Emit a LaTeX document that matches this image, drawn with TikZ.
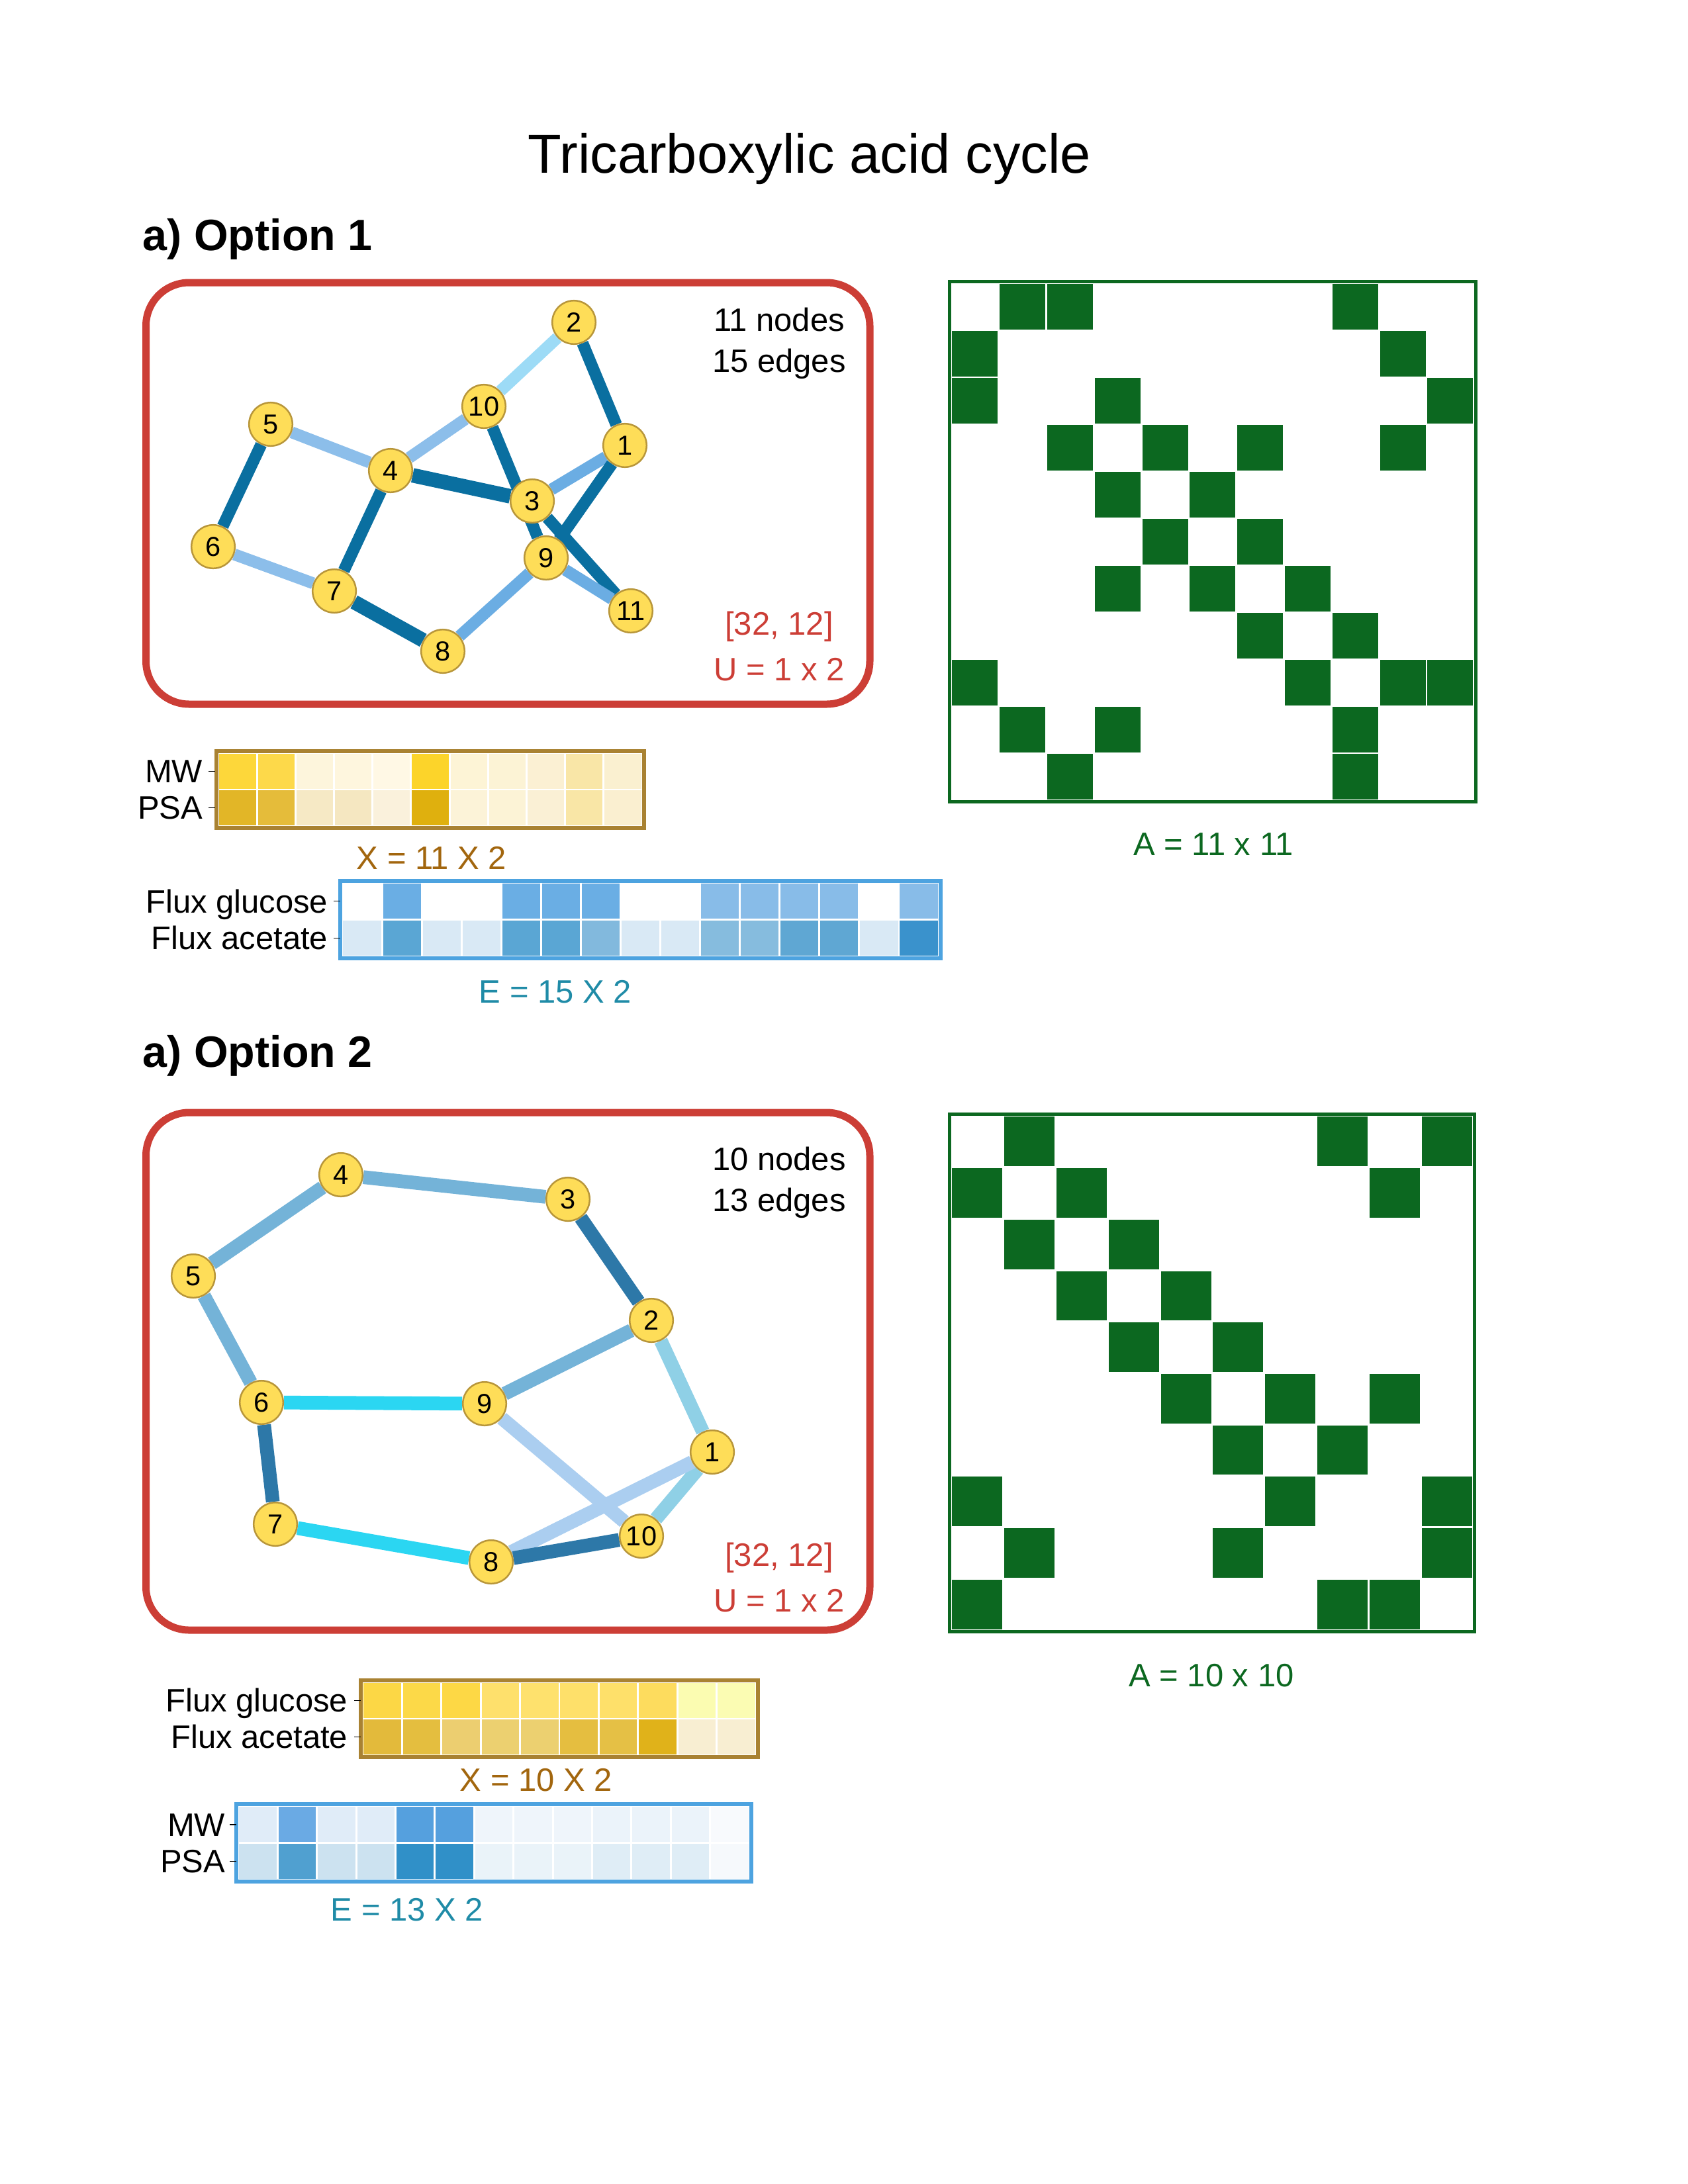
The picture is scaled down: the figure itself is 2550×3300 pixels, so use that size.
\documentclass[tikz,border=0pt]{standalone}
\usepackage{fontspec}
\setmainfont{Liberation Sans}
\usetikzlibrary{backgrounds}
\definecolor{boxred}{HTML}{CC3E36}
\definecolor{vfill}{HTML}{FEDD58}
\definecolor{vline}{HTML}{B8963A}
\definecolor{adjgreen}{HTML}{0C6820}
\definecolor{xbrown}{HTML}{A98232}
\definecolor{xtext}{HTML}{A2660E}
\definecolor{eblue}{HTML}{4DA3E0}
\definecolor{etext}{HTML}{1F8BA7}
\definecolor{gadark}{HTML}{0A6FA0}
\definecolor{galight}{HTML}{8CBEEA}
\definecolor{gamid}{HTML}{6BADE3}
\definecolor{gasky}{HTML}{9DDBF6}
\definecolor{gbmid}{HTML}{74B3D8}
\definecolor{gbdark}{HTML}{2D78A8}
\definecolor{gbcyan}{HTML}{2BD6F2}
\definecolor{gbpale}{HTML}{8FD0E6}
\definecolor{gblav}{HTML}{ABCEF0}

\begin{document}
\begin{tikzpicture}[x=0.2409pt,y=-0.2409pt,
  vert/.style={circle,fill=vfill,draw=vline,line width=0.6pt,minimum size=15.8pt,inner sep=0pt,font=\fontsize{10}{10}\selectfont},
  txt/.style={anchor=base,inner sep=0pt,font=\fontsize{11.8}{14}\selectfont},
  rowlbl/.style={anchor=base east,inner sep=0pt,font=\fontsize{11.8}{14}\selectfont},
  panel/.style={draw=boxred,line width=2.65pt,rounded corners=15.7pt},
  adjframe/.style={draw=adjgreen,line width=1.2pt},
  adjcell/.style={fill=adjgreen,draw=white,line width=0.7pt},
  hcell/.style={fill=hc,draw=white,line width=0.7pt},
  tick/.style={line width=0.35pt},
  ea/.style={line width=4.3pt},
  eb/.style={line width=5.3pt},
  ec/.style={line width=5pt}]
\useasboundingbox (0,0) rectangle (2550,3300);
%titles
\node[anchor=base,inner sep=0pt,font=\fontsize{20}{24}\selectfont] (title) at (1223,261) {Tricarboxylic acid cycle};
\node[anchor=base west,inner sep=0pt,font=\fontsize{16}{19}\selectfont\bfseries] (opta) at (215,378) {a) Option 1};
\node[anchor=base west,inner sep=0pt,font=\fontsize{16}{19}\selectfont\bfseries] (optb) at (215,1612) {a) Option 2};

%option one graph
\draw[panel] (220.5,427) rectangle (1314,1064);
\node[vert] (a1) at (944,673) {1};
\node[vert] (a2) at (867,487) {2};
\node[vert] (a3) at (804,757) {3};
\node[vert] (a4) at (590,711) {4};
\node[vert] (a5) at (409,641) {5};
\node[vert] (a6) at (322,826) {6};
\node[vert] (a7) at (505,893) {7};
\node[vert] (a8) at (669,984) {8};
\node[vert] (a9) at (825,843) {9};
\node[vert] (a10) at (731,614) {10};
\node[vert] (a11) at (953,923) {11};
\begin{scope}[on background layer]
\draw[ea,gasky] (a2)--(a10);
\draw[ea,galight] (a10)--(a4);
\draw[ea,galight] (a5)--(a4);
\draw[ea,galight] (a6)--(a7);
\draw[ea,gamid] (a1)--(a3);
\draw[ea,gamid] (a8)--(a9);
\draw[ea,gadark] (a2)--(a1);
\draw[ea,gadark] (a10)--(a9);
\draw[ea,gadark] (a5)--(a6);
\draw[ea,gadark] (a4)--(a7);
\draw[ea,gadark] (a1)--(a9);
\draw[ea,gadark] (a3)--(a11);
\draw[ea,gamid] (a9)--(a11);
\draw[eb,gadark] (a4)--(a3);
\draw[eb,gadark] (a7)--(a8);
\end{scope}
\node[txt] (na) at (1177,500) {11 nodes};
\node[txt] (ma) at (1177,562) {15 edges};
\node[txt,text=boxred] (ua) at (1177,959) {[32, 12]};
\node[txt,text=boxred] (va) at (1177,1028) {U = 1 x 2};

%option one adjacency
\foreach \r/\c in {1/2,1/3,1/9,2/1,2/10,3/1,3/4,3/11,4/3,4/5,4/7,4/10,5/4,5/6,6/5,6/7,7/4,7/6,7/8,8/7,8/9,9/1,9/8,9/10,9/11,10/2,10/4,10/9,11/3,11/9}
  \filldraw[adjcell] (1437+\c*71.8-71.8,428+\r*71-71) rectangle ++(71.8,71);
\draw[adjframe] (1434.5,425.5) rectangle (2229.3,1211.5);
\node[txt,text=adjgreen] (aa) at (1833,1292) {A = 11 x 11};

%option one heatmaps
\foreach \c [count=\i from 0] in {FDD73A,FDD94A,FDF5DC,FEF6DE,FFF8E5,FCD42A,FDF4D6,FCF3D5,FBF0D3,F9E6A7,FAF0D0}
  {\definecolor{hc}{HTML}{\c}\filldraw[hcell] (330+\i*58.18,1138) rectangle ++(58.18,55);}
\foreach \c [count=\i from 0] in {E2B627,E5BC3A,F6E9C5,F5E7C1,FAF1DC,DFB00E,FCF3D8,FCF3D6,FAF0D5,F9E6A6,FAEFD0}
  {\definecolor{hc}{HTML}{\c}\filldraw[hcell] (330+\i*58.18,1193) rectangle ++(58.18,55);}
\draw[xbrown,line width=1.45pt] (327,1135) rectangle (973,1251);
\draw[tick] (315,1165.5)--(325,1165.5);
\draw[tick] (315,1220.5)--(325,1220.5);
\node[rowlbl] (xa1) at (307,1182.5) {MW};
\node[rowlbl] (xa2) at (307,1237.5) {PSA};
\node[txt,text=xtext] (xa) at (652,1313) {X = 11 X 2};
\foreach \c [count=\i from 0] in {FFFFFF,6AAEE4,FFFFFF,FFFFFF,6AAEE4,6AAEE4,6AAEE4,FFFFFF,FFFFFF,88BCE8,88BCE8,88BCE8,88BCE8,FFFFFF,88BCE8}
  {\definecolor{hc}{HTML}{\c}\filldraw[hcell] (517+\i*60.07,1334) rectangle ++(60.07,55.5);}
\foreach \c [count=\i from 0] in {D9E9F5,5AA6D4,D9E9F5,D9E9F5,5AA6D4,5AA6D4,82B9DD,D9E9F5,D9E9F5,86BCDE,86BCDE,5FA7D3,5FA7D3,D9E9F5,3A92CC}
  {\definecolor{hc}{HTML}{\c}\filldraw[hcell] (517+\i*60.07,1389.5) rectangle ++(60.07,55.5);}
\draw[eblue,line width=1.45pt] (514,1331) rectangle (1421,1448);
\draw[tick] (504,1361.75)--(514,1361.75);
\draw[tick] (504,1417.25)--(514,1417.25);
\node[rowlbl] (ea1) at (496,1379) {Flux glucose};
\node[rowlbl] (ea2) at (496,1434) {Flux acetate};
\node[txt,text=etext] (ea) at (839,1515) {E = 15 X 2};

%option two graph
\draw[panel] (220.5,1681) rectangle (1314,2463);
\node[vert] (b1) at (1076,2194) {1};
\node[vert] (b2) at (984,1995) {2};
\node[vert] (b3) at (858,1812) {3};
\node[vert] (b4) at (515,1775) {4};
\node[vert] (b5) at (292,1928) {5};
\node[vert] (b6) at (395,2119) {6};
\node[vert] (b7) at (416,2303) {7};
\node[vert] (b8) at (742,2360) {8};
\node[vert] (b9) at (732,2121) {9};
\node[vert] (b10) at (969,2321) {10};
\begin{scope}[on background layer]
\draw[ec,gbmid] (b4)--(b5);
\draw[ec,gbmid] (b4)--(b3);
\draw[ec,gbmid] (b5)--(b6);
\draw[ec,gbmid] (b2)--(b9);
\draw[ec,gbdark] (b3)--(b2);
\draw[ec,gbdark] (b6)--(b7);
\draw[ec,gbcyan] (b6)--(b9);
\draw[ec,gbcyan] (b7)--(b8);
\draw[ec,gbpale] (b2)--(b1);
\draw[ec,gbpale] (b1)--(b10);
\draw[ec,gblav] (b9)--(b10);
\draw[ec,gblav] (b1)--(b8);
\draw[ec,gbdark] (b8)--(b10);
\end{scope}
\node[txt] (nb) at (1177,1768) {10 nodes};
\node[txt] (mb) at (1177,1830) {13 edges};
\node[txt,text=boxred] (ub) at (1177,2366) {[32, 12]};
\node[txt,text=boxred] (vb) at (1177,2435) {U = 1 x 2};

%option two adjacency
\foreach \r/\c in {1/2,1/8,1/10,2/1,2/3,2/9,3/2,3/4,4/3,4/5,5/4,5/6,6/5,6/7,6/9,7/6,7/8,8/1,8/7,8/10,9/2,9/6,9/10,10/1,10/8,10/9}
  \filldraw[adjcell] (1437+\c*78.8-78.8,1686+\r*77.7-77.7) rectangle ++(78.8,77.7);
\draw[adjframe] (1434.5,1683.5) rectangle (2227.5,2465.5);
\node[txt,text=adjgreen] (ab) at (1830,2548) {A = 10 x 10};

%option two heatmaps
\foreach \c [count=\i from 0] in {FCD745,FCD948,FDD845,FEE06C,FEE16D,FEE06A,FEE06A,FDDC5E,FBFCB1,FBFCB3}
  {\definecolor{hc}{HTML}{\c}\filldraw[hcell] (548+\i*59.4,2542) rectangle ++(59.4,55);}
\foreach \c [count=\i from 0] in {E3BA3B,E4BE3F,ECCE70,ECD070,ECD070,E5BE40,E5C045,E0B21A,F8EED2,F8EED2}
  {\definecolor{hc}{HTML}{\c}\filldraw[hcell] (548+\i*59.4,2597) rectangle ++(59.4,55);}
\draw[xbrown,line width=1.45pt] (545,2539) rectangle (1145,2655);
\draw[tick] (535,2569.5)--(545,2569.5);
\draw[tick] (535,2624.5)--(545,2624.5);
\node[rowlbl] (xb1) at (526,2586.5) {Flux glucose};
\node[rowlbl] (xb2) at (526,2641.5) {Flux acetate};
\node[txt,text=xtext] (xb) at (810,2706) {X = 10 X 2};
\foreach \c [count=\i from 0] in {E0ECF8,6AAAE4,E0ECF8,E0ECF8,55A0DE,55A0DE,EFF5FB,EFF5FB,EFF5FB,EBF3FA,EBF3FA,EBF3FA,F8FAFD}
  {\definecolor{hc}{HTML}{\c}\filldraw[hcell] (360+\i*59.38,2729) rectangle ++(59.38,55.5);}
\foreach \c [count=\i from 0] in {CCE2F0,50A0D0,CCE2F0,CCE2F0,3090C8,3090C8,EAF3F9,EAF3F9,EAF3F9,DFEDF6,DFEDF6,DFEDF6,F6F9FC}
  {\definecolor{hc}{HTML}{\c}\filldraw[hcell] (360+\i*59.38,2784.5) rectangle ++(59.38,55.5);}
\draw[eblue,line width=1.45pt] (357,2726) rectangle (1135,2843);
\draw[tick] (347,2756.75)--(357,2756.75);
\draw[tick] (347,2812.25)--(357,2812.25);
\node[rowlbl] (eb1) at (341,2774) {MW};
\node[rowlbl] (eb2) at (341,2829) {PSA};
\node[txt,text=etext] (eb) at (615,2902) {E = 13 X 2};
\end{tikzpicture}
\end{document}
